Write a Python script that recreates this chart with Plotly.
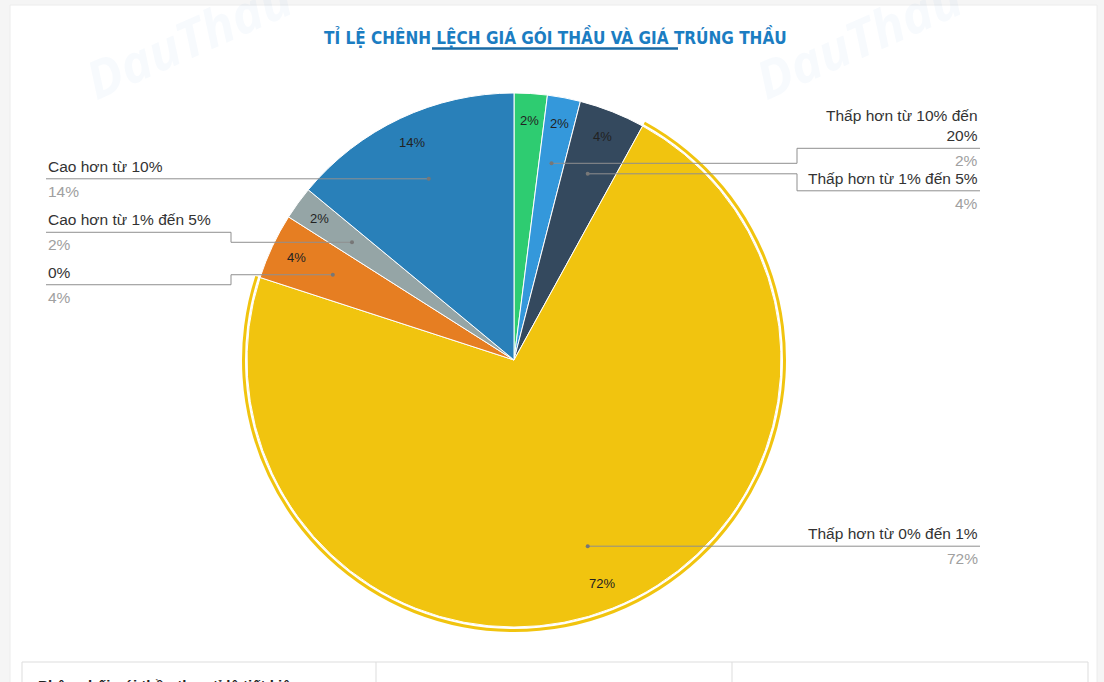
import math
import plotly.graph_objects as go

# ---------------- data ----------------
categories = [
    "Thấp hơn từ 5% đến 10%",
    "Thấp hơn từ 10% đến 20%",
    "Thấp hơn từ 1% đến 5%",
    "Thấp hơn từ 0% đến 1%",
    "0%",
    "Cao hơn từ 1% đến 5%",
    "Cao hơn từ 10%",
]
values = [2, 2, 4, 72, 4, 2, 14]
colors = ["#2ecc71", "#3498db", "#34495e", "#f1c40f", "#e67e22", "#95a5a6", "#2980b9"]
title_text = "TỈ LỆ CHÊNH LỆCH GIÁ GÓI THẦU VÀ GIÁ TRÚNG THẦU"
table_text = "Phân phối gói thầu theo tỉ lệ tiết kiệm"

# ---------------- layout params ----------------
W, H = 1104, 682
CX, CY, R = 514, 360, 267
RING_OUT, RING_IN = 272, 269
highlight = 3                       # slice with the emphasis ring
hidden_labels = {0}                 # outside label hidden (overlap)
label_dy = {1: -15, 2: 17, 3: 0, 4: 10, 5: -10, 6: 0}
ELBOW_L, ELBOW_R = 231, 797
END_L, END_R = 46, 980
LABEL_FONT = "Liberation Sans, Arial, sans-serif"
LS = 15.5


def X(px):
    return px / W


def Y(py):
    return 1 - py / H


def wrap(s, n=22):
    if len(s) <= n:
        return s
    cut = s.rfind(" ", 0, n - 2)
    return s[:cut] + "<br>" + s[cut + 1:]


fig = go.Figure()

fig.add_trace(go.Pie(
    labels=categories, values=values, sort=False, direction="clockwise",
    rotation=0, textinfo="none", hoverinfo="label+percent",
    marker=dict(colors=colors, line=dict(color="white", width=1)),
    domain=dict(x=[X(CX - R), X(CX + R)], y=[Y(CY + R), Y(CY - R)]),
    showlegend=False,
))

ring_colors = ["rgba(0,0,0,0)"] * len(values)
ring_colors[highlight] = colors[highlight]
fig.add_trace(go.Pie(
    labels=categories, values=values, sort=False, direction="clockwise",
    rotation=0, textinfo="none", hoverinfo="skip", hole=RING_IN / RING_OUT,
    marker=dict(colors=ring_colors, line=dict(width=0)),
    domain=dict(x=[X(CX - RING_OUT), X(CX + RING_OUT)],
                y=[Y(CY + RING_OUT), Y(CY - RING_OUT)]),
    showlegend=False,
))

shapes = []
annotations = []

# background card
shapes.append(dict(type="rect", xref="paper", yref="paper", layer="below",
                   x0=X(10), x1=X(1097), y0=Y(720), y1=Y(5),
                   fillcolor="white", line=dict(color="#ececec", width=1)))
# bottom table
shapes.append(dict(type="rect", xref="paper", yref="paper", layer="below",
                   x0=X(22), x1=X(1088), y0=Y(720), y1=Y(662),
                   fillcolor="white", line=dict(color="#dddddd", width=1)))
for xv in (376, 732):
    shapes.append(dict(type="line", xref="paper", yref="paper", layer="below",
                       x0=X(xv), x1=X(xv), y0=Y(720), y1=Y(662),
                       line=dict(color="#dddddd", width=1)))
annotations.append(dict(x=X(36), y=Y(675), xref="paper", yref="paper",
                        xanchor="left", yanchor="top", showarrow=False,
                        text="<b>" + table_text + "</b>",
                        font=dict(family=LABEL_FONT, size=15, color="#222")))

# watermarks
for wx in (188, 858):
    annotations.append(dict(x=X(wx), y=Y(38), xref="paper", yref="paper",
                            xanchor="center", yanchor="middle",
                            showarrow=False, text="<b><i>DauThau</i></b>", textangle=-24,
                            font=dict(family="Open Sans, sans-serif", size=52,
                                      color="rgba(40,130,200,0.04)")))

# title + underline
annotations.append(dict(x=X(555), y=Y(37), xref="paper", yref="paper",
                        xanchor="center", yanchor="middle", showarrow=False,
                        text="<b>" + title_text + "</b>",
                        font=dict(family="Liberation Sans Narrow, DejaVu Sans Condensed, Roboto, sans-serif",
                                  size=17, color="#1b7dc2")))
shapes.append(dict(type="line", xref="paper", yref="paper",
                   x0=X(432), x1=X(678), y0=Y(48.5), y1=Y(48.5),
                   line=dict(color="#1a6aa5", width=2.5)))

total = sum(values)
cum = 0.0
for i, v in enumerate(values):
    frac = v / total
    mid = (cum + frac / 2) * 2 * math.pi
    cum += frac
    sn, cs = math.sin(mid), math.cos(mid)
    pct = f"{round(frac * 100)}%"
    # inside percent text
    annotations.append(dict(x=X(CX + 0.9 * R * sn), y=Y(CY - 0.9 * R * cs),
                            xref="paper", yref="paper", showarrow=False, text=pct,
                            xanchor="center", yanchor="middle",
                            font=dict(family=LABEL_FONT, size=13, color="#222")))
    if i in hidden_labels:
        continue
    dx, dy = CX + 0.75 * R * sn, CY - 0.75 * R * cs
    ly = dy + label_dy.get(i, 0)
    right = sn > 0
    elbow = ELBOW_R if right else ELBOW_L
    end = END_R if right else END_L
    if abs(ly - dy) < 0.5:
        path = f"M {X(dx)} {Y(dy)} L {X(end)} {Y(ly)}"
    else:
        path = (f"M {X(dx)} {Y(dy)} L {X(elbow)} {Y(dy)} "
                f"L {X(elbow)} {Y(ly)} L {X(end)} {Y(ly)}")
    shapes.append(dict(type="path", xref="paper", yref="paper", path=path,
                       line=dict(color="#8f8f8f", width=1)))
    shapes.append(dict(type="circle", xref="paper", yref="paper",
                       x0=X(dx - 2), x1=X(dx + 2), y0=Y(dy + 2), y1=Y(dy - 2),
                       fillcolor="#777", line=dict(width=0)))
    anchor = "right" if right else "left"
    annotations.append(dict(x=X(end), y=Y(ly - 2), xref="paper", yref="paper",
                            xanchor=anchor, yanchor="bottom", align=anchor,
                            showarrow=False, text=wrap(categories[i]),
                            font=dict(family=LABEL_FONT, size=LS, color="#333")))
    annotations.append(dict(x=X(end), y=Y(ly + 2), xref="paper", yref="paper",
                            xanchor=anchor, yanchor="top", align=anchor,
                            showarrow=False, text=pct,
                            font=dict(family=LABEL_FONT, size=LS, color="#a0a0a0")))

fig.update_layout(
    width=W, height=H, margin=dict(l=0, r=0, t=0, b=0),
    paper_bgcolor="#f5f5f5", plot_bgcolor="#f5f5f5",
    shapes=shapes, annotations=annotations, showlegend=False,
)

fig.write_html("out.html")
